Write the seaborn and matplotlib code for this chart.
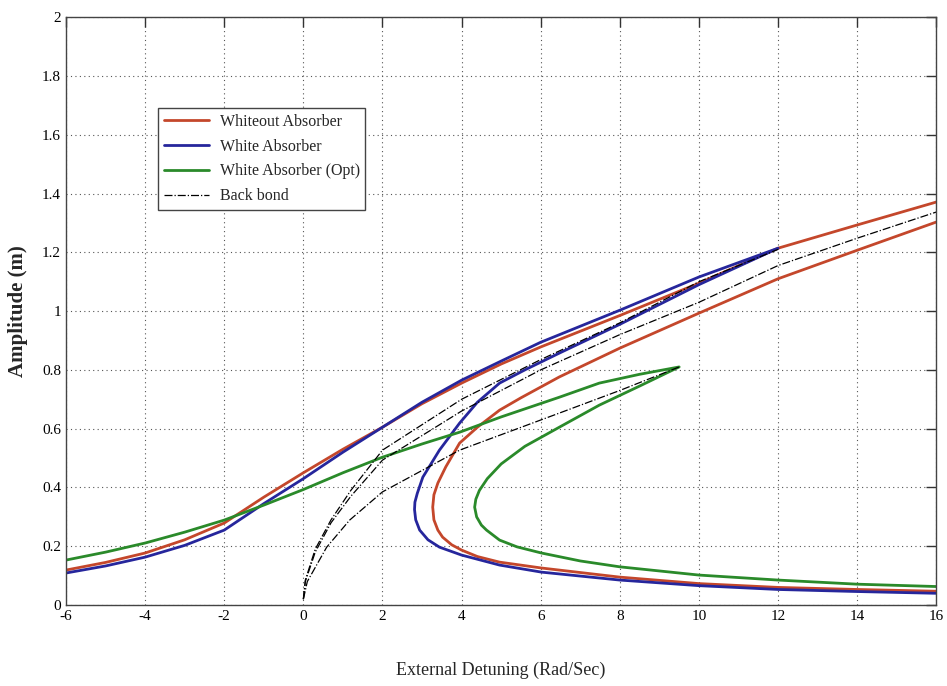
import numpy as np
import pandas as pd
import matplotlib
matplotlib.use('Agg')
import matplotlib.pyplot as plt
import seaborn as sns

# Curve values
# Whiteout Absorber (red): upper branch, then the return / lower branch
red_up_x = [-6, -5, -4, -3, -2, -1, 0, 1, 2, 3, 4, 5, 6, 8, 10, 12, 14, 16]
red_up_y = [0.119, 0.145, 0.177, 0.222, 0.279, 0.367, 0.45, 0.53, 0.605, 0.685, 0.755, 0.82, 0.878,
            0.985, 1.095, 1.214, 1.293, 1.371]
red_lo_x = [16, 14, 12, 10, 8, 6.47, 5.5, 4.96, 4.4, 3.95, 3.6, 3.4, 3.3, 3.27, 3.3, 3.4, 3.52, 3.75,
            4.0, 4.4, 4.96, 6.02, 8, 10, 12, 14, 16]
red_lo_y = [1.303, 1.207, 1.11, 0.993, 0.874, 0.776, 0.705, 0.663, 0.605, 0.551, 0.47, 0.415, 0.375,
            0.333, 0.29, 0.255, 0.231, 0.205, 0.187, 0.165, 0.146, 0.126, 0.095, 0.073, 0.06, 0.053,
            0.047]

# White Absorber (blue)
blue_up_x = [-6, -5, -4, -3, -2, -1, 0, 1, 2, 3, 4, 5, 6, 8, 10, 12]
blue_up_y = [0.109, 0.133, 0.163, 0.203, 0.255, 0.345, 0.43, 0.52, 0.605, 0.69, 0.765, 0.83, 0.894,
             1.003, 1.116, 1.214]
blue_lo_x = [12, 10, 8, 6.47, 5.6, 4.96, 4.4, 3.95, 3.44, 3.02, 2.88, 2.82, 2.81, 2.84, 2.94, 3.15,
             3.44, 4.0, 4.96, 6.02, 8, 10, 12, 14, 16]
blue_lo_y = [1.214, 1.09, 0.955, 0.857, 0.8, 0.755, 0.69, 0.619, 0.527, 0.435, 0.38, 0.35, 0.325,
             0.29, 0.255, 0.222, 0.197, 0.17, 0.136, 0.112, 0.085, 0.066, 0.053, 0.046, 0.04]

# White Absorber (Opt) (green)
green_up_x = [-6, -5, -4, -3, -2, -1, 0, 1, 2, 3, 3.95, 5, 6.47, 7.48, 8.5, 9.5]
green_up_y = [0.153, 0.18, 0.211, 0.248, 0.289, 0.34, 0.393, 0.45, 0.503, 0.548, 0.588, 0.64, 0.707,
              0.755, 0.785, 0.81]
green_lo_x = [9.5, 8.5, 7.48, 6.47, 5.6, 5.0, 4.65, 4.45, 4.36, 4.33, 4.38, 4.5, 4.63, 4.96, 5.4,
              6.02, 7, 8, 10, 12, 14, 16]
green_lo_y = [0.81, 0.745, 0.68, 0.605, 0.54, 0.48, 0.43, 0.39, 0.36, 0.333, 0.3, 0.272, 0.255, 0.221,
              0.198, 0.177, 0.15, 0.13, 0.102, 0.085, 0.071, 0.063]

# Backbone curves (dash-dot)
bb_red_x = [0, 0.05, 0.3, 0.7, 1.2, 2, 4, 6, 8, 10, 12, 14, 16]
bb_red_y = [0.02, 0.08, 0.18, 0.28, 0.37, 0.493, 0.66, 0.8, 0.92, 1.03, 1.155, 1.248, 1.337]
bb_blue_x = [0, 0.05, 0.3, 0.7, 1.2, 2, 4, 6, 8, 10, 12]
bb_blue_y = [0.02, 0.085, 0.19, 0.29, 0.39, 0.527, 0.7, 0.835, 0.96, 1.1, 1.21]
bb_green_x = [0, 0.1, 0.59, 1.17, 2, 3.95, 6.47, 8, 9.5]
bb_green_y = [0.02, 0.08, 0.197, 0.289, 0.385, 0.527, 0.653, 0.73, 0.81]

x_ticks = [-6, -4, -2, 0, 2, 4, 6, 8, 10, 12, 14, 16]
y_ticks = [0, 0.2, 0.4, 0.6, 0.8, 1, 1.2, 1.4, 1.6, 1.8, 2]
y_tick_labels = ['0', '0.2', '0.4', '0.6', '0.8', '1', '1.2', '1.4', '1.6', '1.8', '2']

red = '#c4472b'
blue = '#26269c'
green = '#2a8a2a'

sns.set_style('white')
plt.rcParams['font.family'] = ['Liberation Serif', 'DejaVu Serif']

fig = plt.figure(figsize=(9.47, 6.86), dpi=100)
ax = fig.add_axes([0.0697, 0.118, 0.919, 0.857])

lw = 2.0
sns.lineplot(x=red_up_x, y=red_up_y, sort=False, estimator=None, color=red, lw=lw,
             label='Whiteout Absorber', ax=ax)
sns.lineplot(x=red_lo_x, y=red_lo_y, sort=False, estimator=None, color=red, lw=lw, ax=ax)
sns.lineplot(x=blue_up_x + blue_lo_x[1:], y=blue_up_y + blue_lo_y[1:], sort=False, estimator=None,
             color=blue, lw=lw, label='White Absorber', ax=ax)
sns.lineplot(x=green_up_x + green_lo_x[1:], y=green_up_y + green_lo_y[1:], sort=False, estimator=None,
             color=green, lw=lw, label='White Absorber (Opt)', ax=ax)
for i, (bx, by) in enumerate([(bb_red_x, bb_red_y), (bb_blue_x, bb_blue_y), (bb_green_x, bb_green_y)]):
    sns.lineplot(x=bx, y=by, sort=False, estimator=None, color='black', lw=0.9,
                 linestyle='-.', label='Back bond' if i == 0 else None, ax=ax)

ax.set_xlim(-6, 16)
ax.set_ylim(0, 2)
ax.set_xticks(x_ticks)
ax.set_xticklabels([str(t) for t in x_ticks])
ax.set_yticks(y_ticks)
ax.set_yticklabels(y_tick_labels)
ax.grid(True, linestyle=(0, (1, 3)), color='#555555', lw=0.8)
ax.tick_params(direction='in', length=7, width=1, top=True, right=True, labelsize=11,
               colors='#333333', labelcolor='black')
for s in ax.spines.values():
    s.set_color('#444444')
    s.set_linewidth(1.0)

ax.set_ylabel('Amplitude (m)', fontsize=15, fontweight='bold', labelpad=10)
ax.set_xlabel('External Detuning (Rad/Sec)', fontsize=13, labelpad=28)

leg = ax.legend(loc='upper left', bbox_to_anchor=(0.106, 0.845), borderaxespad=0, fancybox=False,
                framealpha=1, edgecolor='#444444', fontsize=11.5, handlelength=2.8, borderpad=0.35,
                labelspacing=0.55, handletextpad=0.7)
leg.get_frame().set_linewidth(1.0)

fig.savefig('out.png', dpi=100)
